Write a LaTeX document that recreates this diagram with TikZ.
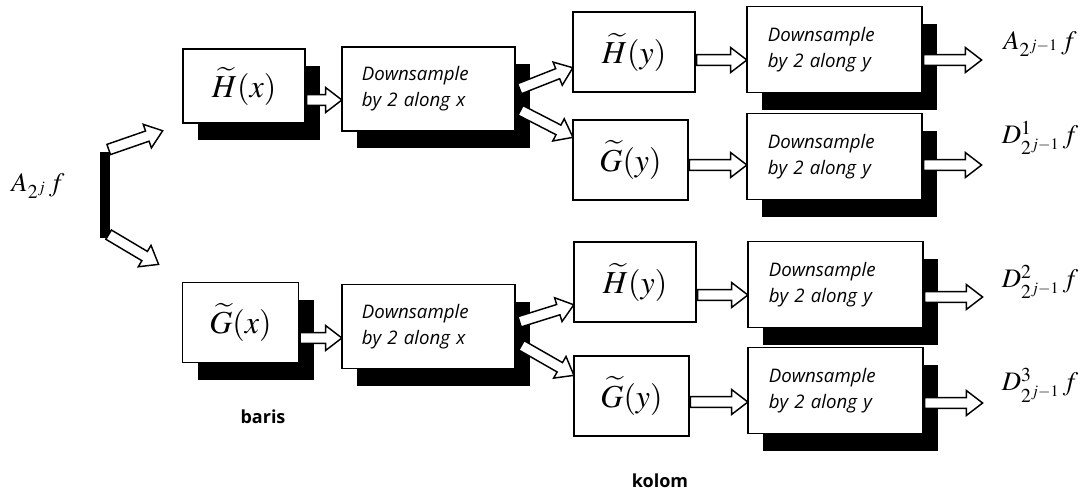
\documentclass[tikz,border=0pt]{standalone}
\usepackage{mathptmx}
\usepackage{fontspec}
\setmainfont{Liberation Serif}
\newfontfamily\dsfont{Open Sans}
\usetikzlibrary{shapes.arrows,shadows,calc}
\newcommand\hollowarrow[2]{%
  \path (#1) coordinate (ha-s) (#2) coordinate (ha-e);
  \path let \p1=($(ha-e)-(ha-s)$), \n1={atan2(\y1,\x1)}, \n2={veclen(\x1,\y1)} in
    node[harrow, minimum height=\n2, rotate=\n1] at (ha-s) {};}
\begin{document}
\begin{tikzpicture}[x=0.75pt,y=-0.75pt,
  shd/.style={drop shadow={shadow xshift=11.25pt, shadow yshift=-12.75pt, opacity=1, fill=black}},
  filt/.style={draw, line width=1.3pt, fill=white, inner sep=0pt, minimum height=60pt,
    font=\fontsize{24}{28}\selectfont},
  hbox/.style={filt, minimum width=91.5pt},
  gbox/.style={filt, minimum width=86pt},
  dsbox/.style={draw, line width=1.3pt, fill=white, shd, inner sep=0pt, text width=100pt, align=left,
    font=\dsfont\itshape\fontsize{14}{19.5}\selectfont},
  dxbox/.style={dsbox, minimum width=129.75pt, minimum height=63pt},
  dybox/.style={dsbox, minimum width=131.25pt, minimum height=64.5pt},
  sig/.style={inner sep=0pt, font=\fontsize{20}{24}\selectfont},
  lbl/.style={inner sep=0pt, font=\dsfont\bfseries\fontsize{13.5}{17}\selectfont},
  harrow/.style={single arrow, anchor=tail, draw, fill=white, line width=1.1pt,
    inner xsep=0pt, inner ysep=3.5pt, single arrow head extend=5.3pt,
    single arrow tip angle=75, single arrow head indent=0pt}]
\fill[white] (0,0) rectangle (1086,493);
\useasboundingbox (0,0) rectangle (1086,493);

% input
\node[sig] (in) at (38,186) {$A_{2^{j}}\,f$};
\node[fill=black, inner sep=0pt, minimum width=7.5pt, minimum height=64.5pt] (bar) at (105,195) {};
\coordinate (in1) at (162,131);
\coordinate (in2) at (158,264);

% row filters
\node[filt, minimum width=91.5pt, minimum height=55.5pt, shd] (hx) at (244,86) {$\widetilde{H}(x)$};
\node[filt, minimum width=87pt, minimum height=60pt, shd] (gx) at (240.5,322.5) {$\widetilde{G}(x)$};
\node[dxbox] (dx1) at (428.5,89) {Downsample\\by 2 along x};
\node[dxbox] (dx2) at (428.5,326.5) {Downsample\\by 2 along x};

% column filters
\node[hbox] (hy1) at (634,52) {$\widetilde{H}(y)$};
\node[gbox] (gy1) at (630.5,160) {$\widetilde{G}(y)$};
\node[hbox] (hy2) at (635,282) {$\widetilde{H}(y)$};
\node[gbox] (gy2) at (631.5,396) {$\widetilde{G}(y)$};
\node[dybox] (dy1) at (834.5,49.5) {Downsample\\by 2 along y};
\node[dybox] (dy2) at (834.5,156.5) {Downsample\\by 2 along y};
\node[dybox] (dy3) at (835.5,284.5) {Downsample\\by 2 along y};
\node[dybox] (dy4) at (835.5,390.5) {Downsample\\by 2 along y};

% outputs
\node[sig] (o1) at (1040,44) {$A_{2^{j-1}}\,f$};
\node[sig] (o2) at (1040,138) {$D^{1}_{2^{j-1}}\,f$};
\node[sig] (o3) at (1040,282) {$D^{2}_{2^{j-1}}\,f$};
\node[sig] (o4) at (1040,385) {$D^{3}_{2^{j-1}}\,f$};

\node[lbl] (baris) at (263,417) {baris};
\node[lbl] (kolom) at (660,481) {kolom};

% arrows
\hollowarrow{$(bar.north)+(3,-2)$}{in1}
\hollowarrow{$(bar.south)+(3,-4)$}{in2}
\hollowarrow{$(hx.east)+(0,14)$}{$(dx1.west)+(0,11)$}
\hollowarrow{$(gx.east)+(0,15.5)$}{$(dx2.west)+(0,11.5)$}
\hollowarrow{$(dx1.east)+(3,0)$}{$(hy1.west)+(0,16)$}
\hollowarrow{$(dx1.east)+(4,21)$}{$(gy1.west)+(0,-23)$}
\hollowarrow{$(dx2.east)+(3,-4.5)$}{$(hy2.west)+(0,23)$}
\hollowarrow{$(dx2.east)+(5,18.5)$}{$(gy2.west)+(0,-21)$}
\hollowarrow{$(hy1.east)+(0,8)$}{$(dy1.west)+(0,10.5)$}
\hollowarrow{$(gy1.east)+(0,5)$}{$(dy2.west)+(0,8.5)$}
\hollowarrow{$(hy2.east)+(0,13)$}{$(dy3.west)+(0,10.5)$}
\hollowarrow{$(gy2.east)+(0,6)$}{$(dy4.west)+(0,11.5)$}
\hollowarrow{$(dy1.east)+(0,10.5)$}{$(dy1.east)+(58,10.5)$}
\hollowarrow{$(dy2.east)+(0,8.5)$}{$(dy2.east)+(58,8.5)$}
\hollowarrow{$(dy3.east)+(0,12.5)$}{$(dy3.east)+(58,12.5)$}
\hollowarrow{$(dy4.east)+(0,12.5)$}{$(dy4.east)+(58,12.5)$}
\end{tikzpicture}
\end{document}
